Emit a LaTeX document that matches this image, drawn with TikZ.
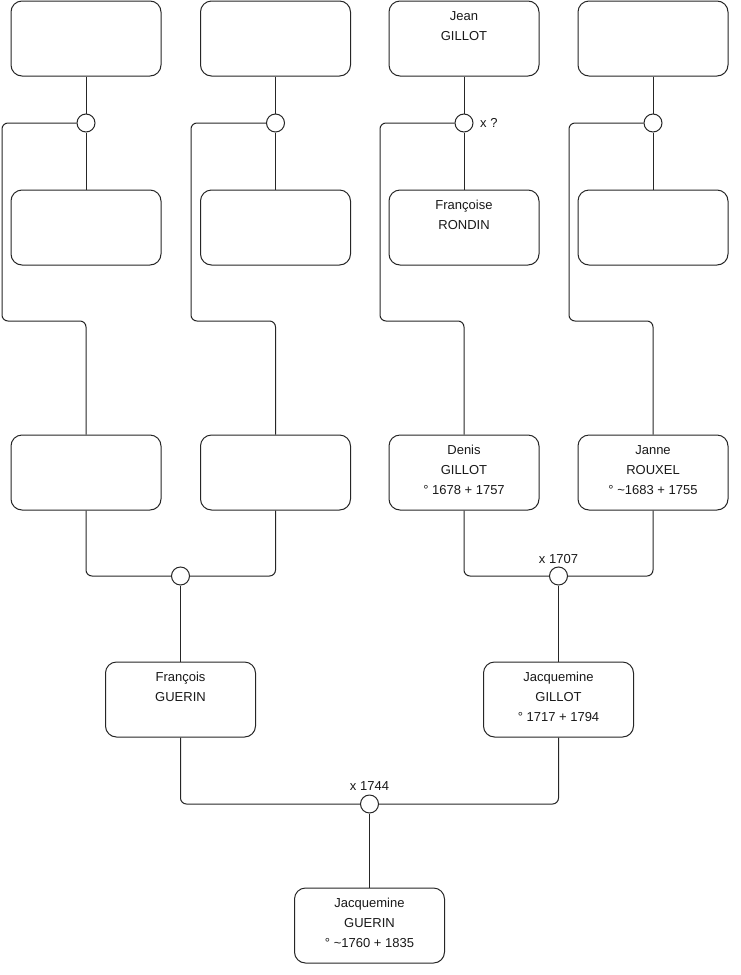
\documentclass[tikz,border=0pt]{standalone}
\usepackage{fontspec}
\setmainfont{Liberation Sans}
\usetikzlibrary{calc}
\tikzset{
  box/.style={draw=black!85, line width=1pt, rounded corners=11pt, minimum width=150pt, minimum height=75pt, inner sep=0pt, fill=white},
  ring/.style={draw=black!85, line width=1pt, circle, minimum size=18pt, inner sep=0pt, fill=white},
  wire/.style={draw=black!85, line width=1pt, rounded corners=6pt},
  txt/.style={align=center, anchor=north, inner sep=0pt, font=\fontsize{13}{20}\selectfont, text=black!90},
  lbl/.style={inner sep=0pt, font=\fontsize{13}{16}\selectfont, text=black!90}
}
\newcommand{\fs}{\rule{0pt}{10pt}}
\begin{document}
\begin{tikzpicture}[x=1pt,y=-1pt]
\useasboundingbox (0,0) rectangle (740,975);
% row 1
\node[box] (b11) at (86,38.5) {};
\node[box] (b12) at (275.5,38.5) {};
\node[box] (b13) at (464,38.5) {};
\node[box] (b14) at (653,38.5) {};
% row 2
\node[box] (b21) at (86,227.5) {};
\node[box] (b22) at (275.5,227.5) {};
\node[box] (b23) at (464,227.5) {};
\node[box] (b24) at (653,227.5) {};
% row 3
\node[box] (b31) at (86,472.5) {};
\node[box] (b32) at (275.5,472.5) {};
\node[box] (b33) at (464,472.5) {};
\node[box] (b34) at (653,472.5) {};
% row 4
\node[box] (b41) at (180.5,699.5) {};
\node[box] (b42) at (558.5,699.5) {};
% bottom
\node[box] (b5) at (369.5,925.5) {};
% circles
\node[ring] (c11) at (86,123) {};
\node[ring] (c12) at (275.5,123) {};
\node[ring] (c13) at (464,123) {};
\node[ring] (c14) at (653,123) {};
\node[ring] (c21) at (180.5,576) {};
\node[ring] (c22) at (558.5,576) {};
\node[ring] (c3) at (369.5,804) {};
% connectors row 1-2
\foreach \i in {1,2,3,4}{
  \draw[wire] (b1\i.south) -- (c1\i.north);
  \draw[wire] (c1\i.south) -- (b2\i.north);
}
\coordinate (k1) at (2,321);
\coordinate (k2) at (191,321);
\coordinate (k3) at (380,321);
\coordinate (k4) at (569,321);
\foreach \i in {1,2,3,4}{
  \draw[wire] (c1\i.west) -| (k\i) -| (b3\i.north);
}
% row 3 - 4
\draw[wire] (b31.south) |- (c21.west);
\draw[wire] (c21.east) -| (b32.south);
\draw[wire] (c21.south) -- (b41.north);
\draw[wire] (b33.south) |- (c22.west);
\draw[wire] (c22.east) -| (b34.south);
\draw[wire] (c22.south) -- (b42.north);
% row 4 - 5
\draw[wire] (b41.south) |- (c3.west);
\draw[wire] (c3.east) -| (b42.south);
\draw[wire] (c3.south) -- (b5.north);
% texts
\node[txt] (t13) at ($(b13.north)+(0,9.5)$) {\fs Jean\\GILLOT};
\node[txt] (t23) at ($(b23.north)+(0,9.5)$) {\fs Françoise\\RONDIN};
\node[txt] (t33) at ($(b33.north)+(0,9.5)$) {\fs Denis\\GILLOT\\° 1678 + 1757};
\node[txt] (t34) at ($(b34.north)+(0,9.5)$) {\fs Janne\\ROUXEL\\° \textasciitilde1683 + 1755};
\node[txt] (t41) at ($(b41.north)+(0,9.5)$) {\fs François\\GUERIN};
\node[txt] (t42) at ($(b42.north)+(0,9.5)$) {\fs Jacquemine\\GILLOT\\° 1717 + 1794};
\node[txt] (t5) at ($(b5.north)+(0,9.5)$) {\fs Jacquemine\\GUERIN\\° \textasciitilde1760 + 1835};
% marriage labels
\node[lbl, anchor=base west] (m13) at ($(c13.center)+(16,4.5)$) {x ?};
\node[lbl, anchor=base] (m22) at ($(c22.center)+(0,-13)$) {x 1707};
\node[lbl, anchor=base] (m3) at ($(c3.center)+(0,-14)$) {x 1744};
\end{tikzpicture}
\end{document}
